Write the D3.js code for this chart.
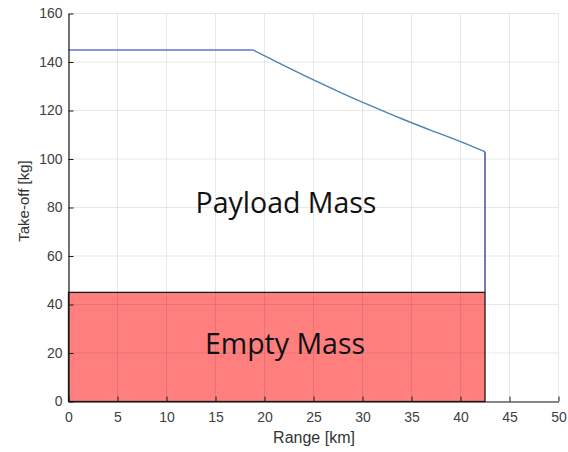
<!DOCTYPE html>
<html>
<head>
<meta charset="utf-8">
<script src="https://cdn.jsdelivr.net/npm/d3@7"></script>
<style>
  html, body { margin: 0; padding: 0; background: #fff; }
  svg { display: block; }
  .tick text { font-family: Arial, "Liberation Sans", sans-serif; font-size: 14px; fill: #404040; }
</style>
</head>
<body>
<svg id="chart" width="568" height="452"></svg>
<script>
// Range (km) and take-off mass (kg) envelope
const cruiseRange = [0, 18.8];
const cruiseMass = [145, 145];
const curveRange = [18.8, 22, 25, 28, 31, 34, 37, 40, 42.5];
const curveMass = [145, 138.5, 132.6, 127.0, 121.7, 116.6, 111.8, 107.2, 103];
const maxRange = 42.5;
const emptyMass = 45;
const xTicks = [0, 5, 10, 15, 20, 25, 30, 35, 40, 45, 50];
const yTicks = [0, 20, 40, 60, 80, 100, 120, 140, 160];

const svg = d3.select("#chart");
const x = d3.scaleLinear().domain([0, 50]).range([68.5, 558.5]);
const y = d3.scaleLinear().domain([0, 160]).range([401.5, 13.5]);

// empty mass block
svg.append("rect")
  .attr("x", x(0)).attr("y", y(emptyMass))
  .attr("width", x(maxRange) - x(0))
  .attr("height", y(0) - y(emptyMass))
  .attr("fill", "#ff7f7f")
  .attr("stroke", "#1a1a1a").attr("stroke-width", 1.3);

// grid
const grid = svg.append("g").attr("stroke", "rgba(0,0,0,0.09)").attr("stroke-width", 1);
grid.selectAll(".gx").data(xTicks).join("line")
  .attr("x1", d => x(d)).attr("x2", d => x(d))
  .attr("y1", y(0)).attr("y2", y(160));
grid.selectAll(".gy").data(yTicks).join("line")
  .attr("x1", x(0)).attr("x2", x(50))
  .attr("y1", d => y(d)).attr("y2", d => y(d));

// envelope lines
const line = d3.line().x(d => x(d[0])).y(d => y(d[1]));
svg.append("path")
  .datum(cruiseRange.map((r, i) => [r, cruiseMass[i]]))
  .attr("d", line).attr("fill", "none")
  .attr("stroke", "#6670d8").attr("stroke-width", 1.5);
svg.append("path")
  .datum(curveRange.map((r, i) => [r, curveMass[i]]))
  .attr("d", d3.line().x(d => x(d[0])).y(d => y(d[1])).curve(d3.curveMonotoneX))
  .attr("fill", "none")
  .attr("stroke", "#4a84b0").attr("stroke-width", 1.4);
svg.append("path")
  .datum([[maxRange, curveMass[curveMass.length - 1]], [maxRange, emptyMass]])
  .attr("d", line).attr("fill", "none")
  .attr("stroke", "#3c3c9c").attr("stroke-width", 1.4);

// axes
const xAxis = svg.append("g").attr("transform", `translate(0,${y(0)})`)
  .call(d3.axisBottom(x).tickValues(xTicks).tickSize(-5).tickSizeOuter(0).tickPadding(11));
const yAxis = svg.append("g").attr("transform", `translate(${x(0)},0)`)
  .call(d3.axisLeft(y).tickValues(yTicks).tickSize(-5).tickSizeOuter(0).tickPadding(6));
[xAxis, yAxis].forEach(g => {
  g.select(".domain").attr("stroke", "#1a1a1a").attr("stroke-width", 1.2);
  g.selectAll(".tick line").attr("stroke", "#1a1a1a");
});

// axis titles
svg.append("text")
  .attr("x", 314).attr("y", 443)
  .attr("text-anchor", "middle")
  .attr("font-family", "Arial, 'Liberation Sans', sans-serif")
  .attr("font-size", 16).attr("fill", "#333")
  .text("Range [km]");
svg.append("text")
  .attr("transform", "translate(29,201) rotate(-90)")
  .attr("text-anchor", "middle")
  .attr("font-family", "Arial, 'Liberation Sans', sans-serif")
  .attr("font-size", 15).attr("fill", "#333")
  .text("Take-off [kg]");

// region labels
svg.append("text")
  .attr("x", 286).attr("y", 213)
  .attr("text-anchor", "middle")
  .attr("font-family", "'Open Sans', sans-serif")
  .attr("font-size", 28.5).attr("fill", "#111")
  .text("Payload Mass");
svg.append("text")
  .attr("x", 285).attr("y", 354)
  .attr("text-anchor", "middle")
  .attr("font-family", "'Open Sans', sans-serif")
  .attr("font-size", 28.5).attr("fill", "#111")
  .text("Empty Mass");
</script>
</body>
</html>
